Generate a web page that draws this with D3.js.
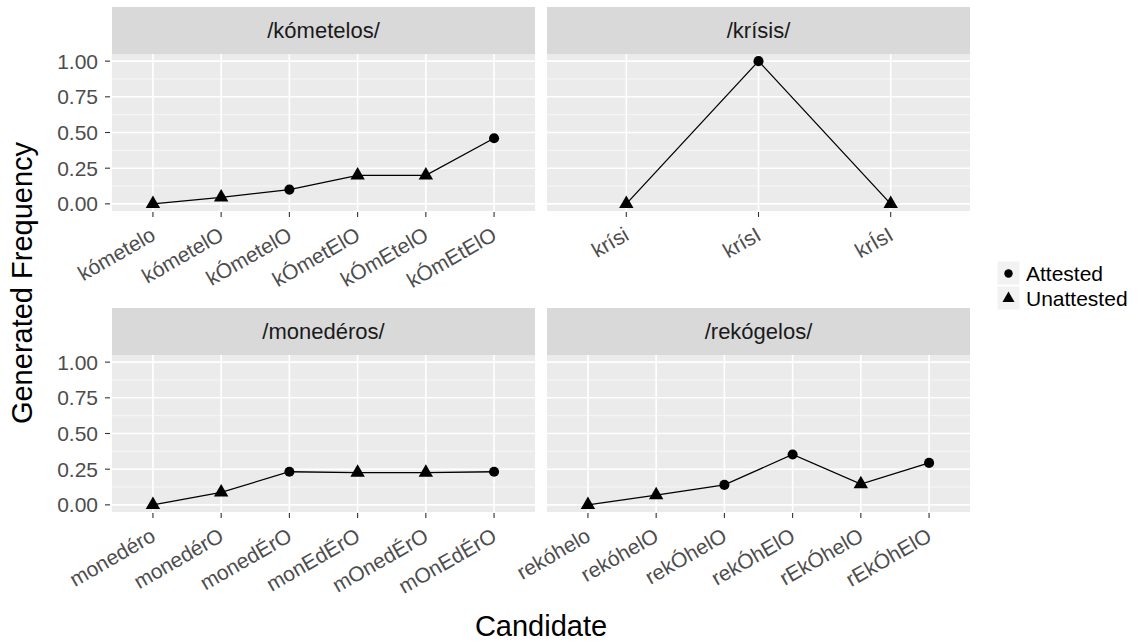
<!DOCTYPE html>
<html>
<head>
<meta charset="utf-8">
<script src="https://cdn.jsdelivr.net/npm/d3@7"></script>
<style>
  body { margin: 0; background: #fff; }
  text { font-family: "Liberation Sans", Arial, Helvetica, sans-serif; }
</style>
</head>
<body>
<div id="drawing_region"></div>
<script>
// facet names
const words = ["/kómetelos/", "/krísis/", "/monedéros/", "/rekógelos/"];

// candidates per facet
const candKometelos = ["kómetelo", "kómetelO", "kÓmetelO", "kÓmetElO", "kÓmEtelO", "kÓmEtElO"];
const candKrisis = ["krísi", "krísI", "krÍsI"];
const candMonederos = ["monedéro", "monedérO", "monedÉrO", "monEdÉrO", "mOnedÉrO", "mOnEdÉrO"];
const candRekogelos = ["rekóhelo", "rekóhelO", "rekÓhelO", "rekÓhElO", "rEkÓhelO", "rEkÓhElO"];

// generated frequencies
const freqKometelos = [0.0, 0.045, 0.1, 0.2, 0.2, 0.46];
const freqKrisis = [0.0, 1.0, 0.0];
const freqMonederos = [0.0, 0.088, 0.232, 0.226, 0.226, 0.232];
const freqRekogelos = [0.0, 0.068, 0.14, 0.353, 0.145, 0.294];

// attested status
const statKometelos = ["Unattested", "Unattested", "Attested", "Unattested", "Unattested", "Attested"];
const statKrisis = ["Unattested", "Attested", "Unattested"];
const statMonederos = ["Unattested", "Unattested", "Attested", "Unattested", "Unattested", "Attested"];
const statRekogelos = ["Unattested", "Unattested", "Attested", "Attested", "Unattested", "Attested"];

const statusLevels = ["Attested", "Unattested"];
const yTicks = [0, 0.25, 0.5, 0.75, 1.0];

const facets = [
    { name: words[0], cand: candKometelos, freq: freqKometelos, stat: statKometelos },
    { name: words[1], cand: candKrisis, freq: freqKrisis, stat: statKrisis },
    { name: words[2], cand: candMonederos, freq: freqMonederos, stat: statMonederos },
    { name: words[3], cand: candRekogelos, freq: freqRekogelos, stat: statRekogelos }
];

const width = 1143, height = 642;
const colX = [112, 547], panelW = 423;
const rowY = [7, 308], stripH = 47, panelH = 157;

const svg = d3.select('#drawing_region')
    .append('svg')
    .attr('width', width)
    .attr('height', height);

const shape = d3.scaleOrdinal()
    .domain(statusLevels)
    .range([d3.symbolCircle, d3.symbolTriangle]);
const shapeSize = d3.scaleOrdinal()
    .domain(statusLevels)
    .range([80, 90]);

// y scale shared; 5% expansion like ggplot
const yscale = d3.scaleLinear().domain([-0.05, 1.05]).range([panelH, 0]);

facets.forEach((f, i) => {
    const col = i % 2, row = Math.floor(i / 2);
    const x0 = colX[col], y0 = rowY[row];
    const g = svg.append('g').attr('transform', `translate(${x0}, ${y0})`);

    // strip
    g.append('rect')
        .attr('width', panelW).attr('height', stripH)
        .attr('fill', '#d9d9d9');
    g.append('text')
        .attr('x', panelW / 2).attr('y', stripH / 2)
        .attr('dy', '0.35em')
        .attr('text-anchor', 'middle')
        .attr('font-size', 22)
        .attr('fill', '#1a1a1a')
        .text(f.name);

    const p = g.append('g').attr('transform', `translate(0, ${stripH})`);
    p.append('rect')
        .attr('width', panelW).attr('height', panelH)
        .attr('fill', '#ebebeb');

    // discrete x scale with 0.6 expansion
    const n = f.cand.length;
    const xscale = d3.scaleLinear().domain([-0.6, n - 1 + 0.6]).range([0, panelW]);

    // minor grid
    const minor = yTicks.slice(0, -1).map(t => t + 0.125);
    p.selectAll('.minor').data(minor).join('line')
        .attr('x1', 0).attr('x2', panelW)
        .attr('y1', d => yscale(d)).attr('y2', d => yscale(d))
        .attr('stroke', '#f7f7f7').attr('stroke-width', 1);
    // major grid
    p.selectAll('.hmaj').data(yTicks).join('line')
        .attr('x1', 0).attr('x2', panelW)
        .attr('y1', d => yscale(d)).attr('y2', d => yscale(d))
        .attr('stroke', '#fff').attr('stroke-width', 1.6);
    p.selectAll('.vmaj').data(f.cand).join('line')
        .attr('x1', (d, j) => xscale(j)).attr('x2', (d, j) => xscale(j))
        .attr('y1', 0).attr('y2', panelH)
        .attr('stroke', '#fff').attr('stroke-width', 1.6);

    // line
    const line = d3.line()
        .x((d, j) => xscale(j))
        .y(d => yscale(d));
    p.append('path')
        .attr('d', line(f.freq))
        .attr('fill', 'none')
        .attr('stroke', '#000')
        .attr('stroke-width', 1.3);

    // points
    p.selectAll('.pt').data(f.freq).join('path')
        .attr('transform', (d, j) => `translate(${xscale(j)}, ${yscale(d)})`)
        .attr('d', (d, j) => d3.symbol().type(shape(f.stat[j])).size(shapeSize(f.stat[j]))())
        .attr('fill', '#000');

    // x ticks and labels
    p.selectAll('.xt').data(f.cand).join('line')
        .attr('x1', (d, j) => xscale(j)).attr('x2', (d, j) => xscale(j))
        .attr('y1', panelH + 1).attr('y2', panelH + 6)
        .attr('stroke', '#333').attr('stroke-width', 1.1);
    p.selectAll('.xl').data(f.cand).join('text')
        .attr('transform', (d, j) => `translate(${xscale(j) + 4}, ${panelH + 28}) rotate(-30)`)
        .attr('text-anchor', 'end')
        .attr('font-size', 21)
        .attr('fill', '#4d4d4d')
        .text(d => d);

    // y axis on left column
    if (col === 0) {
        p.selectAll('.yt').data(yTicks).join('line')
            .attr('x1', -7).attr('x2', -2)
            .attr('y1', d => yscale(d)).attr('y2', d => yscale(d))
            .attr('stroke', '#333').attr('stroke-width', 1.1);
        p.selectAll('.yl').data(yTicks).join('text')
            .attr('x', -14).attr('y', d => yscale(d))
            .attr('dy', '0.35em')
            .attr('text-anchor', 'end')
            .attr('font-size', 21)
            .attr('fill', '#4d4d4d')
            .text(d => d3.format('.2f')(d));
    }
});

// axis titles
svg.append('text')
    .attr('x', (colX[0] + colX[1] + panelW) / 2).attr('y', 636)
    .attr('text-anchor', 'middle')
    .attr('font-size', 29)
    .attr('fill', '#000')
    .text('Candidate');
svg.append('text')
    .attr('transform', `translate(32, ${(rowY[0] + stripH + rowY[1] + stripH + panelH) / 2}) rotate(-90)`)
    .attr('text-anchor', 'middle')
    .attr('font-size', 29)
    .attr('fill', '#000')
    .text('Generated Frequency');

// legend
const legend = svg.append('g').attr('transform', 'translate(997, 261)');
statusLevels.forEach((s, k) => {
    const lg = legend.append('g').attr('transform', `translate(0, ${k * 25})`);
    lg.append('rect')
        .attr('width', 23).attr('height', 24)
        .attr('fill', '#f2f2f2')
        .attr('stroke', '#fff').attr('stroke-width', 1);
    lg.append('path')
        .attr('transform', 'translate(11.5, 12.5)')
        .attr('d', d3.symbol().type(shape(s)).size(shapeSize(s) * 0.7)())
        .attr('fill', '#000');
    lg.append('text')
        .attr('x', 29).attr('y', 12.5)
        .attr('dy', '0.35em')
        .attr('font-size', 21)
        .attr('fill', '#000')
        .text(s);
});
</script>
</body>
</html>
